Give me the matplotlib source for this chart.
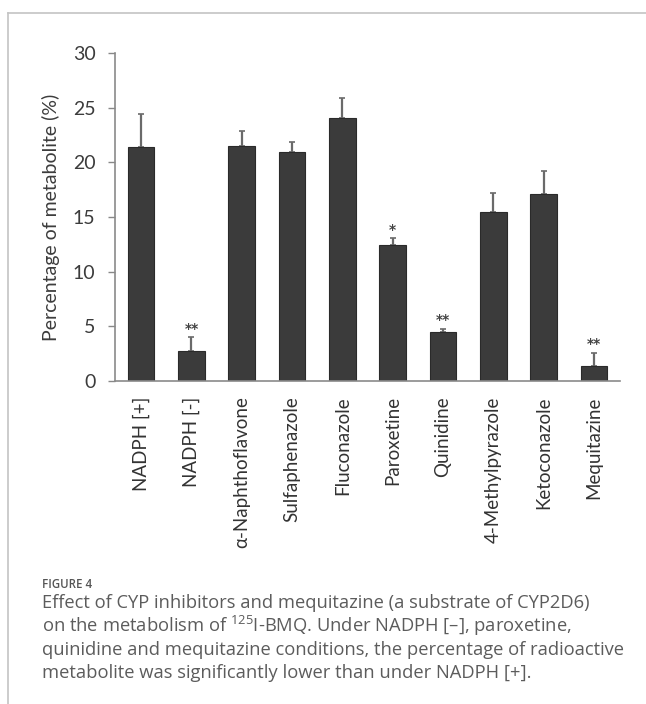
import matplotlib
matplotlib.use("Agg")
import matplotlib.pyplot as plt
from matplotlib.lines import Line2D
import numpy as np

plt.rcParams['font.family'] = ['Lato', 'DejaVu Sans']
plt.rcParams['mathtext.fontset'] = 'custom'
plt.rcParams['mathtext.rm'] = 'Open Sans'

conditions = ["NADPH [+]", "NADPH [-]", "α-Naphthoflavone", "Sulfaphenazole",
              "Fluconazole", "Paroxetine", "Quinidine", "4-Methylpyrazole",
              "Ketoconazole", "Mequitazine"]
metabolite_pct = [21.4, 2.7, 21.5, 20.9, 24.1, 12.4, 4.5, 15.5, 17.1, 1.4]
metabolite_sd = [3.0, 1.3, 1.4, 1.0, 1.8, 0.7, 0.3, 1.7, 2.1, 1.2]
significance = ["", "**", "", "", "", "*", "**", "", "", "**"]
y_ticks = [0, 5, 10, 15, 20, 25, 30]

W, H = 646, 704
fig = plt.figure(figsize=(W / 100, H / 100), dpi=100)

ax = fig.add_axes([115 / W, 1 - 381 / H, 505 / W, 328 / H])
x = np.arange(len(conditions))
ax.bar(x, metabolite_pct, width=0.53, color="#3b3b3b", edgecolor="#2a2a2a",
       linewidth=0.8, zorder=2)
ax.errorbar(x, metabolite_pct, yerr=[np.zeros(len(x)), metabolite_sd],
            fmt="none", ecolor="#6a6a6a", elinewidth=1.6, capsize=2,
            capthick=1.2, zorder=1)
for xi, v, s, mark in zip(x, metabolite_pct, metabolite_sd, significance):
    if mark:
        ax.text(xi, v + s + 0.1, mark, ha="center", va="bottom",
                fontsize=10, fontweight="bold", color="#444444",
                family="DejaVu Sans")

ax.set_xlim(-0.52, len(conditions) - 0.48)
ax.set_ylim(0, 30)
ax.set_yticks(y_ticks)
ax.set_yticklabels([str(t) for t in y_ticks])
ax.set_xticks(x)
ax.set_xticklabels(conditions, rotation=90, fontsize=13.5, color="#333333")
ax.tick_params(axis="x", length=0, pad=11)
ax.tick_params(axis="y", length=5, width=1, color="#888888", labelsize=14,
               labelcolor="#3c3c3c", pad=9)
for side in ("top", "right"):
    ax.spines[side].set_visible(False)
for side in ("left", "bottom"):
    ax.spines[side].set_color("#8a8a8a")
    ax.spines[side].set_linewidth(1.2)
ax.set_ylabel("Percentage of metabolite (%)", fontsize=14, color="#3c3c3c",
              labelpad=9)

# page frame
fig.add_artist(Line2D([8 / W, 1], [1 - 13 / H, 1 - 13 / H],
                      color="#c4c4c4", lw=1.2, transform=fig.transFigure))
fig.add_artist(Line2D([8 / W, 8 / W], [1 - 13 / H, 0],
                      color="#c4c4c4", lw=1.2, transform=fig.transFigure))

# caption
fig.text(42 / W, 1 - 584 / H, "FIGURE 4", fontsize=8.3, color="#555555",
         va="center", ha="left", family="Open Sans", fontweight="semibold")
caption = [
    "Effect of CYP inhibitors and mequitazine (a substrate of CYP2D6)",
    r"on the metabolism of $^{\mathrm{125}}$I-BMQ. Under NADPH [–], paroxetine,",
    "quinidine and mequitazine conditions, the percentage of radioactive",
    "metabolite was significantly lower than under NADPH [+].",
]
for i, line in enumerate(caption):
    fig.text(42 / W, 1 - (603 + 23.4 * i) / H, line, fontsize=13.2,
             color="#5c5c5c", va="center", ha="left", family="Open Sans")

fig.savefig("out.png", dpi=100)
